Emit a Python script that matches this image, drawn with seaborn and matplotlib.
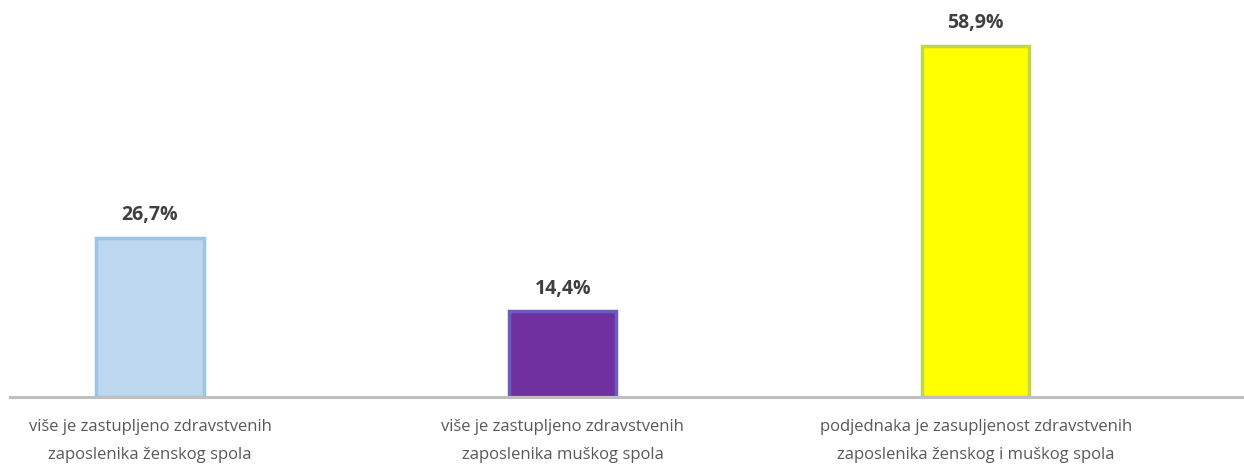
import matplotlib
matplotlib.use("Agg")
import matplotlib.pyplot as plt
import seaborn as sns
import pandas as pd

categories = [
    "više je zastupljeno zdravstvenih\nzaposlenika ženskog spola",
    "više je zastupljeno zdravstvenih\nzaposlenika muškog spola",
    "podjednaka je zasupljenost zdravstvenih\nzaposlenika ženskog i muškog spola",
]
values = [26.7, 14.4, 58.9]
value_labels = ["26,7%", "14,4%", "58,9%"]
fill_colors = ["#BDD7EE", "#7030A0", "#FFFF00"]
edge_colors = ["#9DC3E6", "#6A5CC0", "#C2D64A"]

sns.set_theme(style="white")
plt.rcParams["font.family"] = ["Open Sans", "DejaVu Sans"]

df = pd.DataFrame({"cat": categories, "val": values})

fig = plt.figure(figsize=(12.44, 4.68), dpi=100)
ax = fig.add_axes([10 / 1244, 1 - 397 / 468, 1234 / 1244, 397 / 468])

sns.barplot(data=df, x="cat", y="val", hue="cat", palette=fill_colors,
            legend=False, width=0.26, ax=ax, saturation=1)

for patch, ec in zip(ax.patches, edge_colors):
    patch.set_edgecolor(ec)
    patch.set_linewidth(2.5)

for i, (v, lab) in enumerate(zip(values, value_labels)):
    ax.annotate(lab, (i, v), xytext=(0, 9), textcoords="offset points",
                ha="center", va="bottom", fontsize=14, fontweight="bold",
                color="#404040")

ax.set_xlim(-0.339, 2.65)
ax.set_ylim(0, 66.6)
ax.set_xlabel("")
ax.set_ylabel("")
ax.set_yticks([])
ax.tick_params(axis="x", length=0, pad=16, labelsize=12, labelcolor="#595959")
for lbl in ax.get_xticklabels():
    lbl.set_linespacing(2.0)
for side in ["top", "left", "right"]:
    ax.spines[side].set_visible(False)
ax.spines["bottom"].set_color("#BFBFBF")
ax.spines["bottom"].set_linewidth(2.2)

fig.savefig("out.png", dpi=100)
